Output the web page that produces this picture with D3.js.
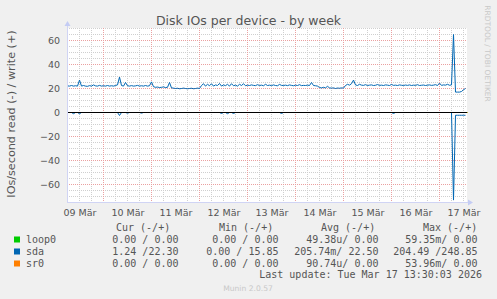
<!DOCTYPE html>
<html>
<head>
<meta charset="utf-8">
<script src="https://cdn.jsdelivr.net/npm/d3@7/dist/d3.min.js"></script>
<style>
  body { margin: 0; background: #f0f0f0; }
  svg { display: block; }
</style>
</head>
<body>
<div id="chart"></div>
<script>
// time window of the week graph (UTC), sda is sampled every hour from the start
var startTime = "2026-03-09T06:00:00Z";
var endTime = "2026-03-17T14:00:00Z";

// sda writes per second (+)
var sdaWrite = [
  22.2, 22.0, 22.5, 22.0, 22.3, 22.0, 27.0, 22.0, 22.5, 22.0, 21.8, 22.4, 22.0, 23.0, 22.2, 22.0, 22.6, 22.0, 22.3, 22.0,
  22.5, 22.0, 22.3, 22.0, 22.5, 23.0, 29.5, 22.5, 22.0, 25.0, 22.3, 22.0, 22.4, 22.0, 22.2, 22.6, 22.0, 22.3, 22.0, 22.5,
  22.0, 22.3, 25.5, 21.5, 21.0, 21.2, 20.8, 21.0, 21.3, 20.8, 21.0, 25.0, 20.5, 20.3, 20.0, 20.2, 19.8, 20.0, 20.3, 20.0,
  19.8, 20.0, 20.2, 19.8, 20.0, 20.3, 20.0, 22.5, 24.0, 22.0, 23.5, 22.3, 24.0, 22.0, 23.0, 22.5, 24.2, 22.0, 23.0, 22.4,
  23.5, 22.0, 24.0, 22.3, 22.8, 22.0, 23.5, 22.5, 24.0, 22.3, 22.8, 22.5, 23.0, 22.6, 22.4, 23.2, 22.5, 22.8, 22.3, 23.5,
  22.5, 22.8, 22.4, 23.0, 22.5, 22.3, 23.4, 22.6, 22.5, 22.8, 22.4, 23.0, 22.6, 22.3, 22.8, 22.5, 23.2, 22.4, 22.6, 22.5,
  22.8, 22.5, 25.0, 22.5, 22.3, 22.0, 20.8, 20.5, 21.0, 20.5, 21.8, 20.5, 20.3, 20.5, 20.0, 20.4, 20.2, 20.5, 20.3, 22.5,
  23.5, 22.8, 24.0, 27.0, 23.0, 22.5, 23.5, 22.8, 22.6, 23.2, 22.5, 22.8, 23.0, 22.5, 22.7, 23.3, 22.6, 22.8, 22.5, 23.0,
  22.8, 22.5, 23.4, 22.6, 22.8, 22.5, 23.0, 22.7, 22.5, 22.9, 22.6, 23.0, 22.5, 22.8, 22.6, 23.2, 22.5, 22.7, 22.9, 22.5,
  22.8, 23.0, 22.6, 22.8, 23.2, 22.5, 24.5, 22.6, 23.0, 22.8, 23.5, 22.7, 23.0, 65.0, 17.0, 17.0, 17.0, 17.5, 19.0, 20.0
];

// sda reads per second (-), drawn below zero
var sdaRead = [
  0, 0, 0, 1.0, 0, 0, 1.0, 0, 0, 0, 0, 0, 0, 0, 0, 0, 0, 0, 0, 0,
  0, 0, 0, 0, 0, 0, 2.5, 0, 0, 0, 0.5, 0, 0, 0, 0, 0, 0, 0.5, 0, 0,
  0, 0, 0, 0, 0, 0, 0, 0, 0, 0, 0, 0, 0, 0, 0, 0, 0, 0, 0, 0,
  0, 0, 0, 0, 0, 0, 0, 0, 0, 0, 0, 0, 0, 0, 0, 0, 0, 0.8, 0, 0,
  1.0, 0, 0, 0.8, 0, 0, 0, 0, 0, 0, 0, 0, 0, 0, 0, 0, 0, 0, 0, 0,
  0, 0, 0, 0, 0, 0, 0, 0.8, 0, 0, 0, 0, 0, 0, 0, 0, 0, 0, 0, 0,
  0, 0, 0, 0, 0, 0, 0, 0, 0, 0, 0, 0, 0, 0, 0, 0, 0, 0, 0, 0,
  0, 0, 0, 0, 0, 0, 0, 0, 0, 0, 0, 0, 0, 0, 0, 0, 0, 0, 0, 0,
  0, 0, 0, 0.8, 0, 0, 0, 0, 0, 0, 0, 0, 0, 0, 0, 0, 0, 0, 0, 0,
  0, 0, 0, 0, 0, 0, 0, 0, 0, 0, 0, 0, 0, 73.0, 2.3, 2.3, 2.3, 2.3, 2.3, 2.3
];

// loop0 and sr0 are flat at zero (value at start and end of window)
var loop0Values = [0, 0];
var sr0Values = [0, 0];

// axis ticks
var yTicks = [-60, -40, -20, 0, 20, 40, 60];
var dayTicks = ["2026-03-09T12:00:00Z", "2026-03-10T12:00:00Z", "2026-03-11T12:00:00Z",
  "2026-03-12T12:00:00Z", "2026-03-13T12:00:00Z", "2026-03-14T12:00:00Z",
  "2026-03-15T12:00:00Z", "2026-03-16T12:00:00Z", "2026-03-17T12:00:00Z"];
var dayLabels = ["09 Mär", "10 Mär", "11 Mär", "12 Mär", "13 Mär", "14 Mär", "15 Mär", "16 Mär", "17 Mär"];

// legend
var legendNames = ["loop0", "sda", "sr0"];
var legendColors = ["#00cc00", "#0066b3", "#ff8000"];
var legendHeads = ["Cur (-/+)", "Min (-/+)", "Avg (-/+)", "Max (-/+)"];
var curVals = ["0.00 / 0.00", "1.24 /22.30", "0.00 / 0.00"];
var minVals = ["0.00 / 0.00", "0.00 / 15.85", "0.00 / 0.00"];
var avgVals = ["49.38u/ 0.00", "205.74m/ 22.50", "90.74u/ 0.00"];
var maxVals = ["59.35m/ 0.00", "204.49 /248.85", "53.96m/ 0.00"];
var lastUpdate = "Last update: Tue Mar 17 13:30:03 2026";

var W = 497, H = 299;
var margin = {top: 28, left: 67, width: 400, height: 174};
var sans = "'DejaVu Sans', sans-serif", mono = "'DejaVu Sans Mono', monospace";

var svg = d3.select("#chart").append("svg")
  .attr("width", W).attr("height", H)
  .style("background", "#f0f0f0");

var t0 = new Date(startTime), t1 = new Date(endTime);
var x = d3.scaleUtc().domain([t0, t1]).range([margin.left + 0.5, margin.left + margin.width + 0.5]);
var y = d3.scaleLinear().domain([-75, 70]).range([margin.top + margin.height + 0.5, margin.top + 0.5]);

// plot canvas
svg.append("rect")
  .attr("x", margin.left).attr("y", margin.top)
  .attr("width", margin.width).attr("height", margin.height)
  .attr("fill", "#ffffff");

// minor grid: every 5 units, every 6 hours
var minorY = d3.range(-75, 71, 5).filter(function(v) { return v % 20 !== 0; });
var minorX = d3.utcHour.every(6).range(t0, t1).filter(function(d) { return d.getUTCHours() !== 0; });
var majorX = d3.utcDay.range(t0, t1);

var g = svg.append("g").attr("class", "grid");
g.selectAll("line.minY").data(minorY).join("line")
  .attr("x1", margin.left).attr("x2", margin.left + margin.width)
  .attr("y1", function(d) { return y(d); }).attr("y2", function(d) { return y(d); })
  .attr("stroke", "#cfcfcf").attr("stroke-dasharray", "1,1");
g.selectAll("line.minX").data(minorX).join("line")
  .attr("y1", margin.top).attr("y2", margin.top + margin.height)
  .attr("x1", function(d) { return x(d); }).attr("x2", function(d) { return x(d); })
  .attr("stroke", "#cfcfcf").attr("stroke-dasharray", "1,1");
svg.append("g").selectAll("line").data(yTicks).join("line")
  .attr("x1", margin.left).attr("x2", margin.left + margin.width)
  .attr("y1", function(d) { return y(d); }).attr("y2", function(d) { return y(d); })
  .attr("stroke", "#eaa0a0").attr("stroke-dasharray", "1,1");
svg.append("g").selectAll("line").data(majorX).join("line")
  .attr("y1", margin.top).attr("y2", margin.top + margin.height)
  .attr("x1", function(d) { return x(d); }).attr("x2", function(d) { return x(d); })
  .attr("stroke", "#eaa0a0").attr("stroke-dasharray", "1,1");

// axes (labels only, rrdtool style)
var yAxis = svg.append("g")
  .attr("transform", "translate(" + margin.left + ",0)")
  .call(d3.axisLeft(y).tickValues(yTicks).tickSize(0).tickPadding(7));
var xAxis = svg.append("g")
  .attr("transform", "translate(0," + (margin.top + margin.height) + ")")
  .call(d3.axisBottom(x).tickValues(dayTicks.map(function(s) { return new Date(s); }))
    .tickSize(0).tickPadding(7)
    .tickFormat(function(d, i) { return dayLabels[i]; }));
[yAxis, xAxis].forEach(function(a) {
  a.select(".domain").remove();
  a.selectAll("text").attr("fill", "#555").style("font-family", sans).style("font-size", "9.5px");
});

// series
var line = d3.line().x(function(d) { return x(d.t); }).y(function(d) { return y(d.v); });
function hourly(arr, sign) {
  return arr.map(function(v, i) { return {t: new Date(+t0 + i * 3600e3), v: sign * v}; });
}
function flat(arr) {
  return [{t: t0, v: arr[0]}, {t: t1, v: arr[1]}];
}
svg.append("path").datum(flat(loop0Values)).attr("d", line)
  .attr("fill", "none").attr("stroke", legendColors[0]);
svg.append("path").datum(hourly(sdaRead, -1)).attr("d", line)
  .attr("fill", "none").attr("stroke", legendColors[1]);
svg.append("path").datum(hourly(sdaWrite, 1)).attr("d", line)
  .attr("fill", "none").attr("stroke", legendColors[1]);
svg.append("path").datum(flat(sr0Values)).attr("d", line)
  .attr("fill", "none").attr("stroke", legendColors[2]);

// zero line
svg.append("line")
  .attr("x1", margin.left).attr("x2", margin.left + margin.width)
  .attr("y1", y(0)).attr("y2", y(0))
  .attr("stroke", "#000");

// axis lines with arrows
var axisCol = "#d0d4f4";
svg.append("line").attr("x1", margin.left + 0.5).attr("x2", margin.left + 0.5)
  .attr("y1", margin.top + margin.height).attr("y2", 25).attr("stroke", axisCol);
svg.append("line").attr("x1", margin.left).attr("x2", margin.left + margin.width + 3)
  .attr("y1", margin.top + margin.height + 0.5).attr("y2", margin.top + margin.height + 0.5)
  .attr("stroke", axisCol);
svg.append("path").attr("d", "M64.5,26L67.5,21L70.5,26Z").attr("fill", "#c4ccf4");
svg.append("path").attr("d", "M468,199.5L473,202.5L468,205.5Z").attr("fill", "#c4ccf4");

// title and labels
svg.append("text").attr("x", 248.5).attr("y", 24.5).attr("text-anchor", "middle")
  .style("font-family", sans).style("font-size", "12.5px").attr("fill", "#555")
  .text("Disk IOs per device - by week");
svg.append("text").attr("transform", "translate(14.5,114) rotate(-90)").attr("text-anchor", "middle")
  .style("font-family", sans).style("font-size", "11.2px").attr("fill", "#555")
  .text("IOs/second read (-) / write (+)");
svg.append("text").attr("transform", "translate(485,53.5) rotate(90)").attr("text-anchor", "middle")
  .style("font-family", sans).style("font-size", "7.5px").attr("fill", "#c8c8c8")
  .text("RRDTOOL / TOBI OETIKER");

// legend
var leg = svg.append("g").style("font-family", mono).style("font-size", "10px")
  .style("white-space", "pre").attr("fill", "#555");
var headX = [116, 219, 321, 423];
legendHeads.forEach(function(h, i) {
  leg.append("text").attr("x", headX[i]).attr("y", 231).text(h);
});
var colEnd = [178.5, 278.5, 378.5, 477.5];
var cols = [curVals, minVals, avgVals, maxVals];
legendNames.forEach(function(n, r) {
  var by = 243 + r * 12;
  leg.append("rect").attr("x", 14).attr("y", by - 6.5).attr("width", 6).attr("height", 6)
    .attr("fill", legendColors[r]);
  leg.append("text").attr("x", 26).attr("y", by).text(n);
  cols.forEach(function(c, k) {
    leg.append("text").attr("x", colEnd[k]).attr("y", by).attr("text-anchor", "end").text(c[r]);
  });
});
leg.append("text").attr("x", 482).attr("y", 278).attr("text-anchor", "end").text(lastUpdate);

svg.append("text").attr("x", 248).attr("y", 291).attr("text-anchor", "middle")
  .style("font-family", sans).style("font-size", "7.6px").attr("fill", "#c8c8c8")
  .text("Munin 2.0.57");
</script>
</body>
</html>
